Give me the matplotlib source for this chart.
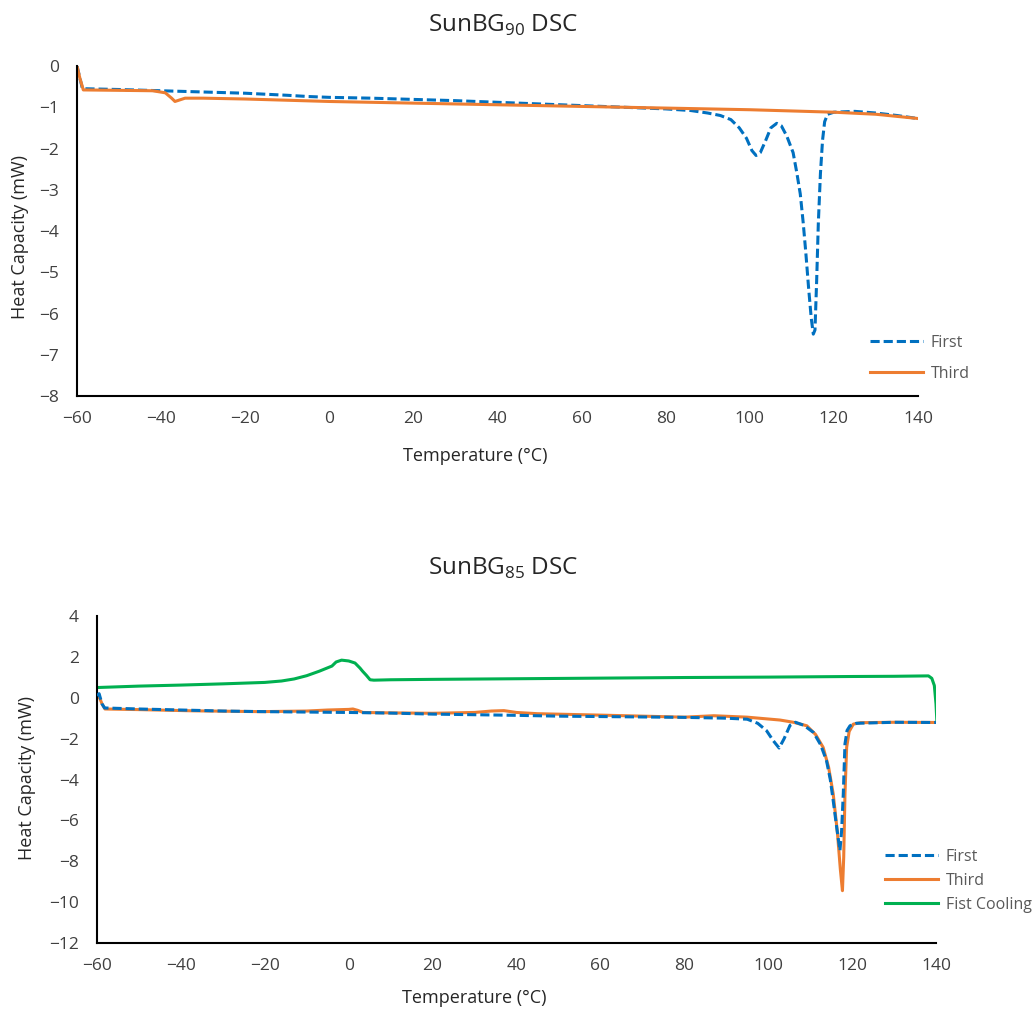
import numpy as np
import matplotlib.pyplot as plt

plt.rcParams['font.family'] = ['Open Sans', 'DejaVu Sans']

# SunBG90 – first and third heating scans
t90_first = [-60, -59.3, -58.7, -50, -40, -30, -20, -10, -5, 0, 10, 20, 30, 40, 50, 60, 70, 80,
             86, 90, 93, 95.5, 97.5, 99.2, 100.5, 101.5, 102.5, 103.8, 105, 106.4, 107.5, 108.8,
             110.3, 111.2, 112, 112.7, 113.3, 114, 114.6, 115.1, 115.5, 115.9, 116.3, 116.8,
             117.3, 117.8, 118.5, 120, 125, 130, 135, 139.7]
hc90_first = [0, -0.3, -0.55, -0.57, -0.6, -0.63, -0.66, -0.71, -0.74, -0.76, -0.78, -0.81, -0.84,
              -0.88, -0.92, -0.96, -1.0, -1.04, -1.08, -1.14, -1.2, -1.3, -1.5, -1.75, -2.05,
              -2.17, -2.1, -1.8, -1.5, -1.39, -1.45, -1.7, -2.1, -2.6, -3.1, -3.8, -4.5, -5.4,
              -6.1, -6.5, -6.4, -5.2, -3.8, -2.6, -1.8, -1.35, -1.17, -1.12, -1.1, -1.14, -1.2,
              -1.27]

t90_third = [-60, -59.3, -58.5, -50, -42, -39, -37.5, -36.7, -35.5, -34.3, -30, -20, -10, 0, 20,
             40, 60, 80, 100, 120, 130, 139.7]
hc90_third = [0, -0.3, -0.58, -0.59, -0.6, -0.65, -0.78, -0.86, -0.82, -0.78, -0.78, -0.8, -0.83,
              -0.86, -0.9, -0.94, -0.98, -1.02, -1.06, -1.12, -1.17, -1.27]

# SunBG85 – first heating, third heating, first cooling
t85_first = [-60, -59.5, -58.8, -58.2, -50, -40, -30, -20, -10, 0, 10, 20, 30, 40, 50, 60, 70,
             80, 90, 95, 97.5, 99.6, 101.2, 102.6, 103.8, 105.2, 106.5, 108.5, 110.8, 112.5,
             113.9, 114.8, 115.5, 116.3, 117.1, 117.5, 117.9, 118.3, 118.8, 119.5, 121, 130,
             140.2]
hc85_first = [0.1, 0.2, -0.3, -0.5, -0.55, -0.6, -0.65, -0.68, -0.7, -0.72, -0.75, -0.8, -0.83,
              -0.86, -0.9, -0.92, -0.94, -0.96, -1.0, -1.05, -1.25, -1.61, -2.1, -2.46, -2.0,
              -1.35, -1.2, -1.35, -1.7, -2.3, -3.08, -4.0, -5.04, -6.3, -7.48, -6.5, -4.7, -2.26,
              -1.6, -1.37, -1.25, -1.2, -1.21]

t85_third = [-60, -59.5, -58.8, -58.1, -50, -37, -21, -10, -5, 0, 1, 2.2, 3.4, 10, 20, 30, 34, 37,
             40, 45, 60, 70, 80, 85, 87, 95, 102.8, 106, 109.2, 111.3, 113.1, 114.4, 115.5,
             116.5, 117.2, 117.7, 118.0, 118.3, 118.7, 119.3, 120.3, 122, 130, 140]
hc85_third = [0.0, 0.05, -0.3, -0.55, -0.58, -0.64, -0.68, -0.65, -0.6, -0.57, -0.55, -0.62,
              -0.72, -0.74, -0.76, -0.72, -0.65, -0.63, -0.72, -0.78, -0.85, -0.9, -0.95, -0.9,
              -0.88, -0.95, -1.09, -1.2, -1.37, -1.8, -2.43, -3.4, -4.71, -6.6, -8.4, -9.44,
              -7.8, -4.71, -2.43, -1.65, -1.29, -1.22, -1.2, -1.21]

t85_cool = [140.2, 140.0, 139.6, 139.0, 138.2, 130, 120, 100, 80, 60, 40, 20, 10, 6, 5.1, 4.2,
            3.3, 2.7, 1.5, 0, -1.7, -3, -4, -5.2, -7, -10, -13, -16, -20, -30, -40, -50, -60]
hc85_cool = [-1.12, -0.3, 0.6, 0.95, 1.07, 1.05, 1.04, 1.01, 0.99, 0.96, 0.93, 0.9, 0.88, 0.86,
             0.88, 1.1, 1.3, 1.45, 1.7, 1.8, 1.84, 1.75, 1.55, 1.45, 1.3, 1.08, 0.92, 0.82, 0.75,
             0.68, 0.62, 0.57, 0.5]

xticks = np.arange(-60, 141, 20)
blue, orange, green = '#0070C0', '#ED7D31', '#00B050'
txt = '#404040'

fig = plt.figure(figsize=(10.34, 10.10), dpi=100)
ax1 = fig.add_axes([77 / 1034, 1 - 396 / 1010, 841 / 1034, 330 / 1010])
ax2 = fig.add_axes([97 / 1034, 1 - 943 / 1010, 839 / 1034, 327 / 1010])

ax1.plot(t90_first, hc90_first, color=blue, lw=2.2, ls=(0, (3, 1.3)), label='First')
ax1.plot(t90_third, hc90_third, color=orange, lw=2.2, label='Third')
ax1.set_ylim(-8, 0)
ax1.set_yticks(np.arange(-8, 1, 1))

ax2.plot(t85_first, hc85_first, color=blue, lw=2.2, ls=(0, (3, 1.3)), label='First', zorder=3)
ax2.plot(t85_third, hc85_third, color=orange, lw=2.2, label='Third', zorder=2)
ax2.plot(t85_cool, hc85_cool, color=green, lw=2.2, label='Fist Cooling', zorder=2)
ax2.set_ylim(-12, 4)
ax2.set_yticks(np.arange(-12, 5, 2))

for ax in (ax1, ax2):
    ax.set_xlim(-60, 140)
    ax.set_xticks(xticks)
    for s in ('top', 'right'):
        ax.spines[s].set_visible(False)
    for s in ('left', 'bottom'):
        ax.spines[s].set_linewidth(1.5)
        ax.spines[s].set_color('black')
    ax.tick_params(axis='both', length=0, labelsize=12.5, labelcolor=txt)
    ax.tick_params(axis='y', pad=13)
    ax.tick_params(axis='x', pad=11)
    ax.set_xlabel('Temperature (°C)', fontsize=13, color='#262626', va='center')
    ax.set_ylabel('Heat Capacity (mW)', fontsize=13, color='#262626', va='center')

ax1.xaxis.set_label_coords(0.474, -0.182)
ax1.yaxis.set_label_coords(-0.068, 0.482)
ax2.xaxis.set_label_coords(0.450, -0.168)
ax2.yaxis.set_label_coords(-0.083, 0.505)

fig.text(503 / 1034, 1 - 25 / 1010, r'SunBG$_{\mathregular{90}}$ DSC', fontsize=17.5,
         ha='center', va='center', color='#262626')
fig.text(503 / 1034, 1 - 568 / 1010, r'SunBG$_{\mathregular{85}}$ DSC', fontsize=17.5,
         ha='center', va='center', color='#262626')

leg_kw = dict(frameon=False, fontsize=11.5, handlelength=3.3, handletextpad=0.5,
              borderpad=0, borderaxespad=0, loc='center left', labelcolor='#595959')
ax1.legend(bbox_to_anchor=(870 / 1034, 1 - 358.5 / 1010), bbox_transform=fig.transFigure,
           labelspacing=0.95, **leg_kw)
ax2.legend(bbox_to_anchor=(885 / 1034, 1 - 881 / 1010), bbox_transform=fig.transFigure,
           labelspacing=0.5, **leg_kw)

fig.savefig('out.png', dpi=100)
